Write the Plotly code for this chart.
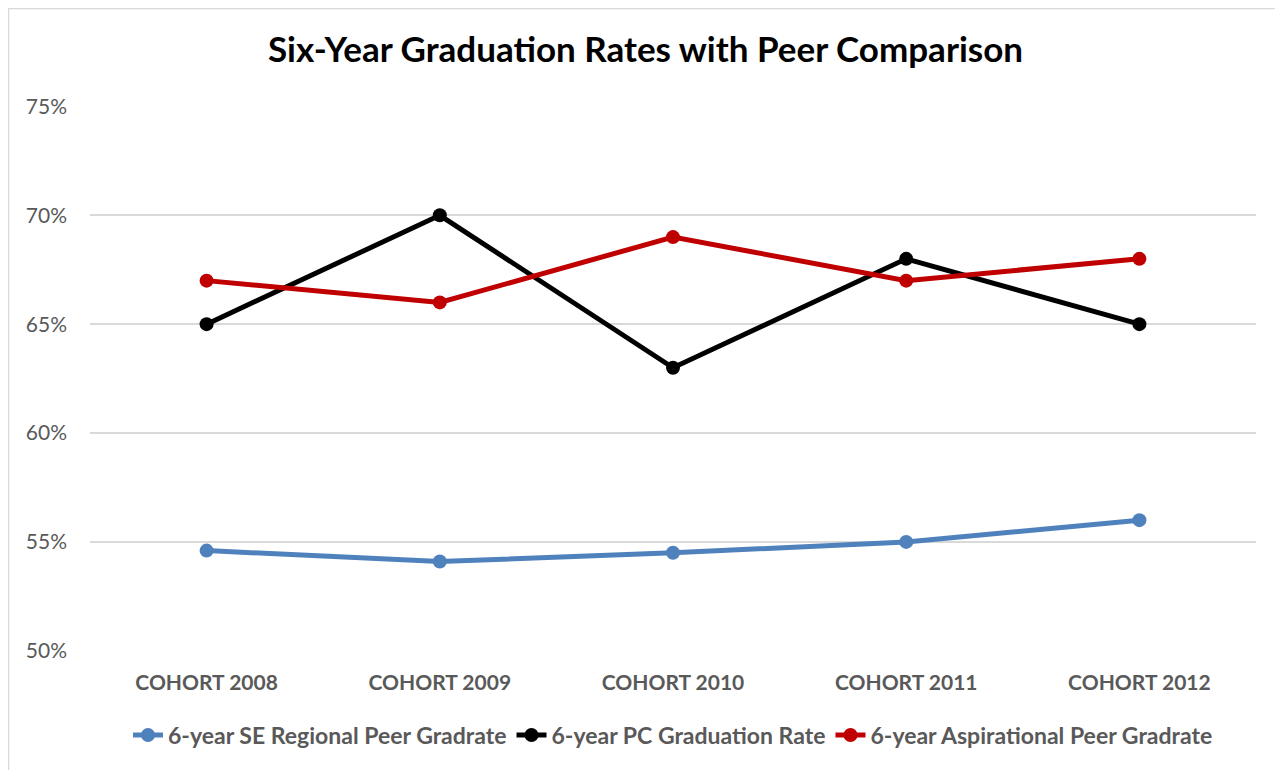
import plotly.graph_objects as go

categories = ["COHORT 2008", "COHORT 2009", "COHORT 2010", "COHORT 2011", "COHORT 2012"]
se_regional = [0.546, 0.541, 0.545, 0.550, 0.560]
pc_rate = [0.65, 0.70, 0.63, 0.68, 0.65]
aspirational = [0.67, 0.66, 0.69, 0.67, 0.68]
y_ticks = [0.50, 0.55, 0.60, 0.65, 0.70, 0.75]
y_tick_labels = ["50%", "55%", "60%", "65%", "70%", "75%"]

series = [
    ("6-year SE Regional Peer Gradrate", se_regional, "#4F81BD"),
    ("6-year PC Graduation Rate", pc_rate, "#000000"),
    ("6-year Aspirational Peer Gradrate", aspirational, "#C00000"),
]

FONT = "Lato, Open Sans, sans-serif"

fig = go.Figure()
for name, vals, color in series:
    fig.add_trace(go.Scatter(
        x=categories, y=vals, name="<b>" + name + "</b>", mode="lines+markers",
        line=dict(color=color, width=5),
        marker=dict(color=color, size=14),
    ))

# page body has an 8px margin; the figure starts at (8, 8)
OFF = 8
W, H = 1283 - OFF, 770 - OFF
L, R, T, B = 90 - OFF, 27, 106 - OFF, 119
pw, ph = W - L - R, H - T - B

def px_x(p):
    return (p - OFF - L) / pw

def px_y(p):
    return (H - B - (p - OFF)) / ph

fig.update_layout(
    width=W, height=H,
    margin=dict(l=L, r=R, t=T, b=B),
    paper_bgcolor="white", plot_bgcolor="white",
    font=dict(family=FONT, color="#595959"),
    title=dict(text="<b>Six-Year Graduation Rates with Peer Comparison</b>",
               x=0.5, xanchor="center", y=1 - (50 - OFF) / H, yanchor="middle",
               font=dict(size=35, color="#000000", family=FONT)),
    xaxis=dict(range=[-0.5, 4.5], showgrid=False, zeroline=False, showline=False,
               ticks="", tickfont=dict(size=21, color="#595959", family=FONT),
               ticklabelstandoff=17,
               tickprefix="<b>", ticksuffix="</b>", fixedrange=True),
    yaxis=dict(range=[0.4999, 0.7502], tickvals=y_ticks, ticktext=y_tick_labels,
               showgrid=True, gridcolor="#D9D9D9", gridwidth=1.5, zeroline=False,
               showline=False, ticks="", ticklabelstandoff=22,
               tickfont=dict(size=21, color="#595959", family=FONT)),
    legend=dict(orientation="h", x=0.5, xanchor="center", y=px_y(735), yanchor="middle",
                font=dict(size=23, color="#595959", family=FONT), itemwidth=30,
                traceorder="normal", tracegroupgap=0),
    showlegend=True,
    shapes=[dict(type="rect", xref="paper", yref="paper",
                 x0=px_x(8.5), x1=px_x(1300), y0=px_y(8.5), y1=px_y(800),
                 line=dict(color="#D9D9D9", width=1.5), layer="below")],
)

fig.write_html("out.html")
